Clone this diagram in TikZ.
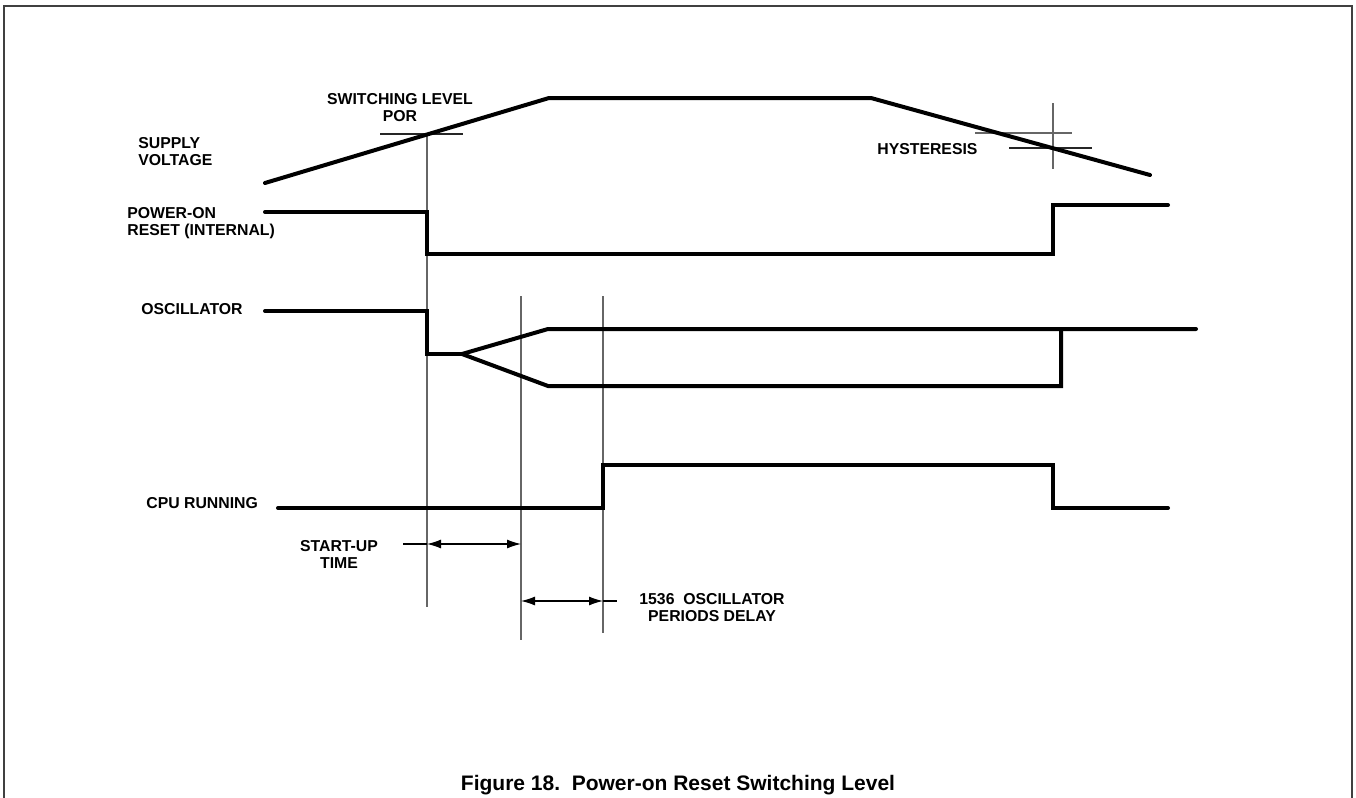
\documentclass[tikz,border=0pt]{standalone}
\usepackage{fontspec}
\setmainfont{Liberation Sans}
\usetikzlibrary{arrows.meta}
\begin{document}
\begin{tikzpicture}[x=0.5pt,y=-0.5pt,
  signal/.style={line width=2pt,line join=miter,line cap=round},
  guide/.style={line width=0.6pt,draw=black!60},
  level/.style={line width=0.6pt,draw=black!85},
  dim/.style={line width=0.6pt,{Latex[length=7pt,width=4.5pt]}-{Latex[length=7pt,width=4.5pt]}},
  lbl/.style={font=\fontsize{7.9}{8.5}\selectfont\bfseries,inner sep=0pt,align=left},
  clbl/.style={font=\fontsize{7.9}{8.5}\selectfont\bfseries,inner sep=0pt,align=center},
  frame/.style={line width=0.8pt,draw=black!75}]
\useasboundingbox (0,0) rectangle (1356,798);
% frame
\draw[frame] (4,800) -- (4,6) -- (1352,6) -- (1352,800);
% labels
\node[lbl,anchor=north west] (supply) at (138,137) {SUPPLY\\VOLTAGE};
\node[lbl,anchor=north west] (por) at (127,207) {POWER-ON\\RESET (INTERNAL)};
\node[lbl,anchor=north west] (osc) at (141,303) {OSCILLATOR};
\node[lbl,anchor=north west] (cpu) at (146,497) {CPU RUNNING};
\node[clbl,anchor=north] (swl) at (400,93) {SWITCHING LEVEL\\POR};
\node[lbl,anchor=north west] (hyst) at (877,143) {HYSTERESIS};
\node[clbl,anchor=north] (sut) at (339,540) {START-UP\\TIME};
\node[clbl,anchor=north] (delay) at (712,593) {1536~~OSCILLATOR\\PERIODS DELAY};
\node[font=\fontsize{10.5}{12}\selectfont\bfseries,inner sep=0pt] (cap) at (678,785) {Figure 18.~~Power-on Reset Switching Level};
% time markers
\coordinate (t1top) at (427,134);  \coordinate (t1bot) at (427,607);
\coordinate (t2top) at (521,296);  \coordinate (t2bot) at (521,640);
\coordinate (t3top) at (603,296);  \coordinate (t3bot) at (603,633);
\draw[guide] (t1top) -- (t1bot);
\draw[guide] (t2top) -- (t2bot);
\draw[guide] (t3top) -- (t3bot);
% switching level
\coordinate (swa) at (380,134); \coordinate (swb) at (463,134);
\draw[level] (swa) -- (swb);
% hysteresis
\coordinate (hua) at (975,133); \coordinate (hub) at (1072,133);
\coordinate (hla) at (1009,148); \coordinate (hlb) at (1092,148);
\coordinate (hva) at (1053,103); \coordinate (hvb) at (1053,169);
\draw[guide] (hua) -- (hub);
\draw[level] (hla) -- (hlb);
\draw[guide] (hva) -- (hvb);
% supply voltage
\draw[signal] (265,183) -- (549,98) -- (871,98) -- (1150,175);
% power-on reset
\draw[signal] (265,212) -- (427,212) -- (427,254) -- (1053,254) -- (1053,205) -- (1168,205);
% oscillator
\coordinate (split) at (462,354);
\draw[signal] (265,311) -- (427,311) -- (427,354) -- (split);
\draw[signal] (split) -- (548,329) -- (1196,329);
\draw[signal] (split) -- (548,386) -- (1061,386) -- (1061,329);
% cpu running
\draw[signal] (278,508) -- (603,508) -- (603,465) -- (1053,465) -- (1053,508) -- (1168,508);
% dimension arrows
\coordinate (a1s) at (403,544); \coordinate (a1l) at (427,544); \coordinate (a1r) at (521,544);
\draw[line width=0.6pt] (a1s) -- (a1l);
\draw[dim] (a1l) -- (a1r);
\coordinate (a2l) at (521,601); \coordinate (a2r) at (603,601); \coordinate (a2e) at (617,601);
\draw[dim] (a2l) -- (a2r);
\draw[line width=0.6pt] (a2r) -- (a2e);
\end{tikzpicture}
\end{document}
